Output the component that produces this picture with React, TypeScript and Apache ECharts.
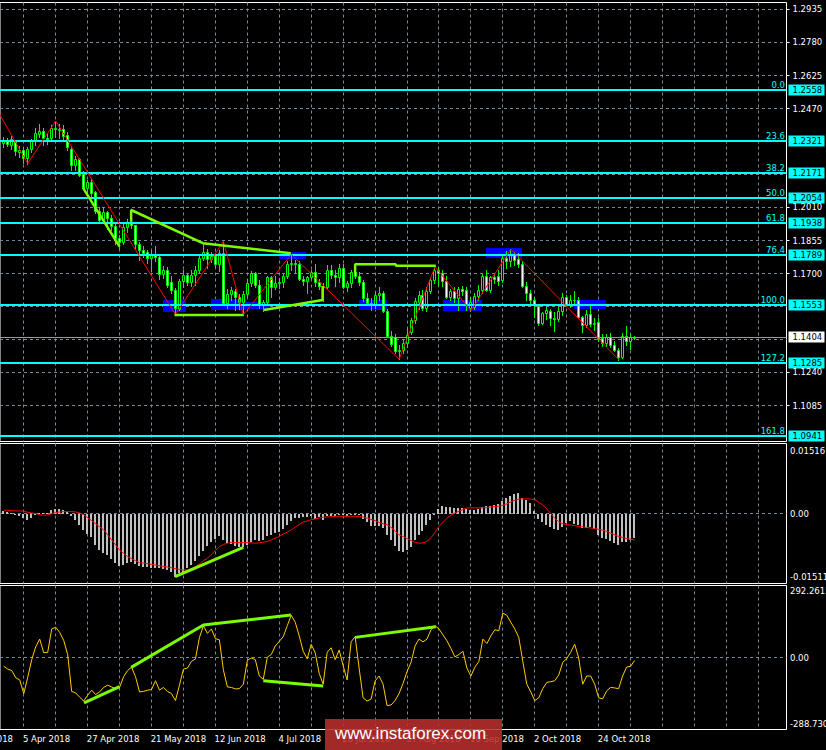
import React, { useEffect, useRef } from "react";
import * as echarts from "echarts";

// Daily EUR/USD bars, index 0 = 29 Mar 2018 ... index 158 = 6 Nov 2018. Rows: [open, close, low, high]
const candles: number[][] = [
  [1.2310,1.2318,1.2290,1.2340],[1.2318,1.2308,1.2295,1.2335],[1.2302,1.2330,1.2285,1.2345],[1.2318,1.2272,1.2255,1.2325],
  [1.2270,1.2280,1.2245,1.2295],[1.2280,1.2240,1.2218,1.2290],[1.2240,1.2282,1.2215,1.2292],[1.2283,1.2318,1.2270,1.2330],
  [1.2318,1.2357,1.2300,1.2380],[1.2355,1.2368,1.2340,1.2398],[1.2365,1.2332,1.2300,1.2380],[1.2332,1.2330,1.2305,1.2352],
  [1.2332,1.2380,1.2320,1.2395],[1.2382,1.2375,1.2340,1.2414],[1.2370,1.2378,1.2335,1.2398],[1.2377,1.2345,1.2330,1.2395],
  [1.2350,1.2290,1.2280,1.2360],[1.2285,1.2210,1.2185,1.2290],[1.2210,1.2235,1.2185,1.2250],[1.2235,1.2162,1.2155,1.2240],
  [1.2165,1.2100,1.2095,1.2180],[1.2100,1.2130,1.2055,1.2140],[1.2130,1.2078,1.2065,1.2145],[1.2080,1.1993,1.1985,1.2085],
  [1.1995,1.1950,1.1940,1.2010],[1.1952,1.1988,1.1940,1.2010],[1.1988,1.1960,1.1910,1.1995],[1.1962,1.1925,1.1905,1.1975],
  [1.1925,1.1865,1.1840,1.1935],[1.1865,1.1850,1.1822,1.1880],[1.1850,1.1920,1.1840,1.1935],[1.1918,1.1940,1.1895,1.1955],
  [1.1940,1.1928,1.1915,1.1995],[1.1928,1.1840,1.1820,1.1930],[1.1840,1.1810,1.1763,1.1850],[1.1810,1.1795,1.1780,1.1830],
  [1.1800,1.1772,1.1750,1.1810],[1.1772,1.1792,1.1715,1.1810],[1.1792,1.1780,1.1760,1.1830],[1.1780,1.1700,1.1675,1.1785],
  [1.1700,1.1720,1.1680,1.1735],[1.1720,1.1650,1.1640,1.1730],[1.1660,1.1625,1.1610,1.1690],[1.1625,1.1540,1.1510,1.1635],
  [1.1538,1.1665,1.1530,1.1675],[1.1665,1.1693,1.1640,1.1720],[1.1693,1.1660,1.1650,1.1705],[1.1660,1.1695,1.1645,1.1720],
  [1.1695,1.1720,1.1650,1.1735],[1.1720,1.1775,1.1710,1.1785],[1.1775,1.1800,1.1765,1.1840],[1.1800,1.1770,1.1725,1.1815],
  [1.1770,1.1785,1.1755,1.1800],[1.1785,1.1745,1.1730,1.1795],[1.1745,1.1795,1.1715,1.1810],[1.1795,1.1565,1.1560,1.1852],
  [1.1565,1.1608,1.1540,1.1630],[1.1605,1.1625,1.1580,1.1640],[1.1622,1.1590,1.1530,1.1630],[1.1590,1.1570,1.1535,1.1605],
  [1.1570,1.1605,1.1509,1.1618],[1.1605,1.1655,1.1590,1.1675],[1.1655,1.1703,1.1645,1.1715],[1.1703,1.1650,1.1640,1.1710],
  [1.1650,1.1555,1.1540,1.1670],[1.1555,1.1570,1.1525,1.1580],[1.1570,1.1685,1.1560,1.1690],[1.1685,1.1640,1.1590,1.1690],
  [1.1640,1.1655,1.1630,1.1690],[1.1655,1.1660,1.1635,1.1680],[1.1660,1.1690,1.1640,1.1700],[1.1690,1.1745,1.1680,1.1760],
  [1.1745,1.1750,1.1720,1.1791],[1.1750,1.1745,1.1705,1.1765],[1.1745,1.1675,1.1670,1.1760],[1.1675,1.1665,1.1650,1.1690],
  [1.1665,1.1685,1.1610,1.1690],[1.1685,1.1710,1.1675,1.1720],[1.1710,1.1660,1.1645,1.1745],[1.1660,1.1643,1.1630,1.1675],
  [1.1643,1.1640,1.1575,1.1655],[1.1640,1.1718,1.1630,1.1740],[1.1720,1.1695,1.1680,1.1740],[1.1695,1.1685,1.1645,1.1720],
  [1.1685,1.1725,1.1660,1.1745],[1.1725,1.1640,1.1635,1.1745],[1.1640,1.1655,1.1620,1.1665],[1.1655,1.1710,1.1640,1.1720],
  [1.1710,1.1690,1.1680,1.1745],[1.1690,1.1660,1.1650,1.1710],[1.1660,1.1585,1.1575,1.1670],[1.1585,1.1565,1.1560,1.1610],
  [1.1565,1.1553,1.1530,1.1585],[1.1553,1.1600,1.1540,1.1615],[1.1600,1.1610,1.1580,1.1640],[1.1610,1.1525,1.1520,1.1620],
  [1.1525,1.1410,1.1405,1.1535],[1.1412,1.1372,1.1365,1.1435],[1.1405,1.1340,1.1330,1.1420],[1.1340,1.1345,1.1301,1.1370],
  [1.1345,1.1375,1.1330,1.1395],[1.1375,1.1415,1.1360,1.1445],[1.1430,1.1485,1.1420,1.1495],[1.1485,1.1575,1.1470,1.1585],
  [1.1570,1.1600,1.1535,1.1620],[1.1600,1.1540,1.1530,1.1625],[1.1540,1.1622,1.1525,1.1640],[1.1622,1.1670,1.1610,1.1680],
  [1.1672,1.1720,1.1655,1.1733],[1.1720,1.1705,1.1650,1.1730],[1.1705,1.1665,1.1645,1.1720],[1.1665,1.1590,1.1585,1.1690],
  [1.1590,1.1622,1.1580,1.1630],[1.1622,1.1585,1.1570,1.1640],[1.1585,1.1630,1.1530,1.1640],[1.1630,1.1620,1.1600,1.1645],
  [1.1625,1.1560,1.1530,1.1640],[1.1540,1.1570,1.1528,1.1590],[1.1545,1.1595,1.1535,1.1610],[1.1595,1.1625,1.1580,1.1650],
  [1.1625,1.1690,1.1610,1.1700],[1.1690,1.1625,1.1620,1.1720],[1.1625,1.1685,1.1615,1.1690],[1.1685,1.1675,1.1655,1.1700],
  [1.1690,1.1665,1.1650,1.1720],[1.1670,1.1775,1.1660,1.1790],[1.1775,1.1760,1.1725,1.1805],[1.1760,1.1790,1.1735,1.1815],
  [1.1790,1.1765,1.1740,1.1800],[1.1770,1.1745,1.1730,1.1795],[1.1745,1.1645,1.1640,1.1760],[1.1645,1.1610,1.1580,1.1660],
  [1.1610,1.1578,1.1560,1.1625],[1.1578,1.1555,1.1500,1.1590],[1.1550,1.1470,1.1460,1.1560],[1.1470,1.1515,1.1465,1.1520],
  [1.1515,1.1530,1.1490,1.1545],[1.1525,1.1493,1.1460,1.1535],[1.1493,1.1490,1.1432,1.1520],[1.1490,1.1525,1.1480,1.1545],
  [1.1525,1.1592,1.1510,1.1610],[1.1592,1.1560,1.1550,1.1600],[1.1560,1.1580,1.1545,1.1600],[1.1580,1.1578,1.1560,1.1620],
  [1.1578,1.1500,1.1495,1.1590],[1.1500,1.1460,1.1430,1.1505],[1.1460,1.1512,1.1450,1.1530],[1.1512,1.1465,1.1455,1.1550],
  [1.1465,1.1470,1.1440,1.1495],[1.1475,1.1395,1.1385,1.1495],[1.1400,1.1375,1.1365,1.1420],[1.1375,1.1405,1.1365,1.1420],
  [1.1405,1.1370,1.1360,1.1425],[1.1370,1.1345,1.1340,1.1385],[1.1345,1.1310,1.1300,1.1355],[1.1310,1.1410,1.1305,1.1425],
  [1.1410,1.1385,1.1370,1.1455],[1.1385,1.1405,1.1350,1.1420],[1.1402,1.1404,1.1398,1.1410],
];

const macdHist: number[] = [
  0.00058,0.00044,0.00015,-0.00015,-0.00058,-0.00102,-0.00131,-0.00102,-0.00029,0.00015,
  0.00022,0.00015,0.00073,0.00109,0.00109,0.0008,0.00044,-0.00044,-0.00131,-0.0024,
  -0.00349,-0.00436,-0.00516,-0.00676,-0.00785,-0.00843,-0.00894,-0.00989,-0.01076,-0.01134,
  -0.01112,-0.01076,-0.0104,-0.01091,-0.01134,-0.01149,-0.01163,-0.0117,-0.0117,-0.01185,
  -0.01192,-0.01221,-0.01258,-0.01367,-0.0128,-0.01258,-0.01185,-0.01112,-0.01018,-0.00916,
  -0.008,-0.00698,-0.00603,-0.00553,-0.00494,-0.00567,-0.00625,-0.00654,-0.00698,-0.00727,
  -0.00727,-0.00683,-0.00603,-0.00567,-0.00582,-0.00567,-0.00494,-0.00458,-0.00422,-0.00407,
  -0.00334,-0.0024,-0.00153,-0.00095,-0.00095,-0.0008,-0.00073,-0.00058,-0.00116,-0.00073,
  -0.00131,-0.00058,-0.00044,-0.00044,-0.00015,-0.00029,-0.00044,-0.00029,-0.00022,-0.00029,
  -0.00116,-0.00189,-0.00262,-0.00262,-0.00262,-0.00313,-0.00458,-0.00567,-0.00698,-0.008,
  -0.00822,-0.00785,-0.00712,-0.00567,-0.00458,-0.00385,-0.0024,-0.00145,-0.00015,0.00102,
  0.00174,0.00145,0.00145,0.00124,0.00124,0.00124,0.00102,0.00073,0.00073,0.00109,
  0.00153,0.0016,0.0016,0.00182,0.00218,0.00269,0.00334,0.00378,0.00414,0.00443,
  0.00342,0.00305,0.00233,0.00051,-0.00116,-0.00189,-0.0024,-0.00291,-0.00334,-0.00364,
  -0.00291,-0.00204,-0.00167,-0.00218,-0.0024,-0.00313,-0.00313,-0.00291,-0.00334,-0.00458,
  -0.00531,-0.00553,-0.00582,-0.00625,-0.00676,-0.00603,-0.00603,-0.00567,-0.00531,
];

const macdSignal: number[] = [
  0.00073,0.00073,0.00065,0.00058,0.00058,0.00051,0.00029,0.00015,0,-0.00022,
  -0.00036,-0.00029,0,0.00022,0.00036,0.00044,0.00044,0.00044,0.00036,0.00015,
  -0.00022,-0.00087,-0.00153,-0.00218,-0.00284,-0.00349,-0.00458,-0.00567,-0.00676,-0.00785,
  -0.00858,-0.0093,-0.00974,-0.01018,-0.01061,-0.01069,-0.01083,-0.01098,-0.01112,-0.01127,
  -0.01141,-0.01156,-0.0117,-0.01192,-0.01207,-0.01221,-0.01214,-0.01192,-0.01149,-0.01091,
  -0.01018,-0.00967,-0.0088,-0.008,-0.00712,-0.00669,-0.0064,-0.00625,-0.00625,-0.00625,
  -0.00625,-0.00625,-0.00632,-0.0064,-0.00632,-0.00618,-0.00603,-0.00567,-0.00531,-0.00494,
  -0.00443,-0.004,-0.00349,-0.00291,-0.0024,-0.00182,-0.0016,-0.00131,-0.00116,-0.00095,
  -0.0008,-0.00073,-0.00065,-0.00058,-0.00058,-0.00058,-0.00058,-0.00058,-0.00058,-0.00058,
  -0.00073,-0.00095,-0.00124,-0.00153,-0.00189,-0.00218,-0.0024,-0.00298,-0.00371,-0.00458,
  -0.00494,-0.00538,-0.00582,-0.00618,-0.0064,-0.00632,-0.00603,-0.00523,-0.00407,-0.00276,
  -0.00189,-0.00102,-0.00036,0.00015,0.00051,0.00087,0.00124,0.00124,0.00124,0.00124,
  0.00124,0.00131,0.00145,0.00153,0.0016,0.00182,0.00211,0.00254,0.00291,0.00313,
  0.0032,0.0032,0.00313,0.00305,0.00247,0.00189,0.00102,0,-0.00102,-0.00174,
  -0.00218,-0.0024,-0.00247,-0.00262,-0.00276,-0.00284,-0.00298,-0.00313,-0.0032,-0.00342,
  -0.00356,-0.00385,-0.00422,-0.00458,-0.00494,-0.00516,-0.00538,-0.00553,-0.00567,
];

const cci: number[] = [
  -34,-45,-51,-80,-89,-144,-78,-7,45,76,
  21,23,117,124,103,71,14,-135,-141,-158,
  -174,-151,-130,-148,-137,-119,-110,-117,-124,-119,
  -76,-51,-37,-76,-137,-135,-130,-128,-92,-130,
  -119,-135,-144,-172,-110,-45,-41,-14,-4,82,
  130,99,117,78,73,-48,-117,-119,-125,-124,
  -106,-10,0,-7,-73,-86,3,14,48,67,
  86,130,172,144,89,27,-4,55,21,-62,
  -106,23,41,-7,32,-32,-89,65,86,-41,
  -161,-174,-166,-93,-73,-106,-192,-190,-172,-144,
  -103,-55,-18,48,76,65,76,114,130,117,
  93,69,38,4,14,27,-41,-73,-37,-14,
  76,58,89,114,110,181,172,144,117,82,
  -14,-106,-137,-172,-161,-124,-99,-96,-92,-69,
  -18,-3,23,55,0,-106,-73,-73,-106,-161,
  -165,-133,-119,-121,-124,-73,-37,-34,-10,
];

// time axis labels (bar index -> text)
const dateIdx = [-11, 5, 21, 37, 53, 69, 85, 101, 117, 133, 149];
const dateText = ["14 Mar 2018", "5 Apr 2018", "27 Apr 2018", "21 May 2018", "12 Jun 2018", "4 Jul 2018",
  "26 Jul 2018", "17 Aug 2018", "10 Sep 2018", "2 Oct 2018", "24 Oct 2018"];
const vGridIdx = [5, 13, 21, 29, 37, 45, 53, 61, 69, 77, 85, 93, 101, 109, 117, 125, 133, 141, 149, 157, 165, 173, 181, 189];

// price scale
const priceTickLabels = ["1.2935", "1.2780", "1.2625", "1.2470", "1.2010", "1.1855", "1.1700", "1.1240", "1.1085"];
const priceHiddenGrid = [1.2318, 1.2164, 1.1548, 1.1394];
const fibLevels = [1.2558, 1.2321, 1.2171, 1.2054, 1.1938, 1.1789, 1.1553, 1.1285, 1.0941];
const fibNames = ["0.0", "23.6", "38.2", "50.0", "61.8", "76.4", "100.0", "127.2", "161.8"];
const lastPrice = 1.1404;

const macdTicks = [0.01516, 0, -0.01511];
const macdTickText = ["0.01516", "0.00", "-0.01511"];
const cciTicks = [292.2615, 0, -288.73];
const cciTickText = ["292.2615", "0.00", "-288.730"];

// annotations
const zigzag = [[-2, 1.2476], [6, 1.2215], [13, 1.2414], [43, 1.1510], [55, 1.1852], [60, 1.1509], [72, 1.1791],
  [99, 1.1301], [108, 1.1733], [117, 1.1528], [127, 1.1815], [154, 1.1300]];
const blueZones = [ // [fromIdx, toIdx, low, high]
  [40, 45.85, 1.1523, 1.1578], [51.9, 60.7, 1.1531, 1.1582], [60.7, 66.5, 1.1535, 1.1570], [69, 75.85, 1.1769, 1.1802],
  [88.9, 95.9, 1.1531, 1.1578], [110, 119.85, 1.1528, 1.1578], [120.9, 129.85, 1.1775, 1.1822], [142.9, 150.85, 1.1535, 1.1578],
];
const limePrice = [
  [[19.85, 1.2101], [29, 1.1827]],
  [[31.9, 1.1943], [31.9, 1.1998], [49.85, 1.1843], [71.9, 1.1796]],
  [[42.75, 1.1508], [60, 1.1508]],
  [[65.2, 1.1531], [79.85, 1.1578], [79.85, 1.1643]],
  [[88, 1.1703], [88, 1.1745], [98.2, 1.1745], [98.2, 1.1738], [108.2, 1.1738]],
];
const limeMacd = [[[42.9, -0.01364], [60, -0.00729]]];
const limeCci = [
  [[20.1, -181], [29, -116]],
  [[31.9, -38], [50, 133], [71.9, 173]],
  [[65, -92], [80, -113]],
  [[88, 83], [108.2, 126]],
];

const X_MIN = -0.95, X_MAX = 196.05;
const PRICE_MIN = 1.09173, PRICE_MAX = 1.29667;
const MACD_MIN = -0.01511, MACD_MAX = 0.01516;
const CCI_MIN = -288.73, CCI_MAX = 292.2615;

const FONT = '8.5px "DejaVu Sans", Verdana, sans-serif';
const GRID_COLOR = "#778899";
const CANDLE = "#00ff00";
const LIME = "#7cfc00";
const AQUA = "#00ffff";

const crisp = (v: number) => Math.round(v - 0.5) + 0.5;
const txt = (x: number, y: number, text: string, fill: string, align = "left", vAlign = "middle", font = FONT) => ({
  type: "text", x, y, silent: true,
  style: { text, fill, font, textAlign: align, textVerticalAlign: vAlign, align, verticalAlign: vAlign },
});

function vGrid(k: number) {
  return {
    type: "custom", xAxisIndex: k, yAxisIndex: k, silent: true, z: 1, encode: { x: 0, y: 1 },
    data: vGridIdx.map((i) => [i, 0]),
    renderItem: (params: any, api: any) => {
      const cs = params.coordSys;
      const x = Math.floor(api.coord([api.value(0), 0])[0]) + 0.5;
      return { type: "line", shape: { x1: x, y1: cs.y, x2: x, y2: cs.y + cs.height },
        style: { stroke: GRID_COLOR, lineWidth: 1, lineDash: [3, 3] } };
    },
  };
}
function hGrid(k: number, values: number[]) {
  return {
    type: "custom", xAxisIndex: k, yAxisIndex: k, silent: true, z: 1, encode: { x: 0, y: 1 },
    data: values.map((v) => [X_MIN, v]),
    renderItem: (params: any, api: any) => {
      const cs = params.coordSys;
      const y = crisp(api.coord([X_MIN, api.value(1)])[1]);
      return { type: "line", shape: { x1: cs.x, y1: y, x2: cs.x + cs.width, y2: y },
        style: { stroke: GRID_COLOR, lineWidth: 1, lineDash: [3, 3] } };
    },
  };
}
function axisLabels(k: number, values: number[], texts: string[], dx: number, clamp: number, tick: boolean) {
  return {
    type: "custom", xAxisIndex: k, yAxisIndex: k, silent: true, z: 8, encode: { x: 0, y: 1 },
    data: values.map((v) => [X_MAX, v]),
    renderItem: (params: any, api: any) => {
      const cs = params.coordSys;
      const right = cs.x + cs.width;
      let y = api.coord([X_MAX, api.value(1)])[1];
      y = Math.min(Math.max(y, cs.y + clamp), cs.y + cs.height - clamp);
      const children: any[] = [txt(right + dx, y, texts[params.dataIndex], "#ffffff")];
      if (tick) children.push({ type: "line", shape: { x1: right, y1: crisp(y), x2: right + 3, y2: crisp(y) }, style: { stroke: "#fff", lineWidth: 1 } });
      return { type: "group", children };
    },
  };
}
function polyline(k: number, data: number[][], color: string, width: number, z: number) {
  return { type: "line", xAxisIndex: k, yAxisIndex: k, data, symbol: "none", showSymbol: false, silent: true, z,
    lineStyle: { color, width }, animation: false };
}

const series: any[] = [
  vGrid(0), vGrid(1), vGrid(2),
  hGrid(0, [...priceTickLabels.map(Number), ...priceHiddenGrid]),
  hGrid(1, [0]), hGrid(2, [0]),
  {
    type: "custom", xAxisIndex: 0, yAxisIndex: 0, silent: true, z: 2, encode: { x: [0, 1], y: [2, 3] },
    data: blueZones,
    renderItem: (params: any, api: any) => {
      const a = api.coord([api.value(0), api.value(3)]);
      const b = api.coord([api.value(1), api.value(2)]);
      return { type: "rect", shape: { x: Math.round(a[0]), y: Math.round(a[1]), width: Math.round(b[0] - a[0]), height: Math.round(b[1] - a[1]) },
        style: { fill: "#0000ff" } };
    },
  },
  {
    type: "custom", xAxisIndex: 0, yAxisIndex: 0, silent: true, z: 3, encode: { x: 0, y: [1, 2, 3, 4] },
    data: candles.map((c, i) => [i, c[0], c[1], c[2], c[3]]),
    renderItem: (params: any, api: any) => {
      const i = api.value(0), o = api.value(1), c = api.value(2), l = api.value(3), h = api.value(4);
      const po = api.coord([i, o]);
      const x = Math.floor(po[0]) + 0.5;
      const yo = po[1], yc = api.coord([i, c])[1];
      const yl = api.coord([i, l])[1], yh = api.coord([i, h])[1];
      const top = Math.round(Math.min(yo, yc)) + 0.5;
      const bot = Math.round(Math.max(yo, yc)) + 0.5;
      return { type: "group", children: [
        { type: "line", shape: { x1: x, y1: Math.round(yh), x2: x, y2: Math.round(yl) + 1 }, style: { stroke: CANDLE, lineWidth: 1 } },
        { type: "rect", shape: { x: x - 1, y: top, width: 2, height: Math.max(bot - top, 0) },
          style: { fill: c >= o ? "#000000" : "#ffffff", stroke: CANDLE, lineWidth: 1 } },
      ] };
    },
  },
  {
    type: "custom", xAxisIndex: 0, yAxisIndex: 0, silent: true, z: 3, encode: { x: 0, y: 1 },
    data: [[X_MAX, lastPrice]],
    renderItem: (params: any, api: any) => {
      const cs = params.coordSys;
      const right = cs.x + cs.width;
      const y = api.coord([X_MAX, api.value(1)])[1];
      return { type: "group", children: [
        { type: "line", shape: { x1: cs.x, y1: crisp(y), x2: right, y2: crisp(y) }, style: { stroke: "#9a9a9a", lineWidth: 1 } },
        { type: "rect", z2: 10, shape: { x: right + 2, y: Math.round(y) - 5.5, width: 36, height: 11 }, style: { fill: "#ffffff" } },
        { ...txt(right + 6, Math.round(y), lastPrice.toFixed(4), "#000000"), z2: 11 },
      ] };
    },
  },
  {
    type: "custom", xAxisIndex: 0, yAxisIndex: 0, silent: true, z: 4, encode: { x: 0, y: 1 },
    data: fibLevels.map((v) => [X_MAX, v]),
    renderItem: (params: any, api: any) => {
      const cs = params.coordSys;
      const right = cs.x + cs.width;
      const v = api.value(1);
      const y = Math.round(api.coord([X_MAX, v])[1]);
      return { type: "group", children: [
        { type: "line", shape: { x1: cs.x, y1: y, x2: right, y2: y }, style: { stroke: AQUA, lineWidth: 2 } },
        txt(right - 1.5, y - 1, fibNames[params.dataIndex], AQUA, "right", "bottom"),
        { type: "rect", shape: { x: right + 2, y: y - 5.5, width: 36, height: 11 }, style: { fill: AQUA } },
        txt(right + 6, y, v.toFixed(4), "#000000"),
      ] };
    },
  },
  polyline(0, zigzag, "#ff0000", 1, 5),
  ...limePrice.map((d) => polyline(0, d, LIME, 2.5, 6)),
  axisLabels(0, priceTickLabels.map(Number), priceTickLabels, 6, 0, true),

  // MACD pane
  {
    type: "custom", xAxisIndex: 1, yAxisIndex: 1, silent: true, z: 3, encode: { x: 0, y: 1 },
    data: macdHist.map((v, i) => [i, v]),
    renderItem: (params: any, api: any) => {
      const i = api.value(0), v = api.value(1);
      const p0 = api.coord([i, 0]), p1 = api.coord([i, v]);
      const x = Math.floor(p0[0]) - 1;
      const y0 = Math.round(p0[1]), y1 = Math.round(p1[1]);
      return { type: "rect", shape: { x, y: Math.min(y0, y1), width: 2, height: Math.max(Math.abs(y1 - y0), 1) },
        style: { fill: "#c0c0c0" } };
    },
  },
  polyline(1, macdSignal.map((v, i) => [i, v]), "#ff0000", 1, 5),
  ...limeMacd.map((d) => polyline(1, d, LIME, 3, 6)),
  axisLabels(1, macdTicks, macdTickText, 3.5, 7, false),

  // CCI pane
  polyline(2, cci.map((v, i) => [i, v]), "#ffcc00", 1, 5),
  ...limeCci.map((d) => polyline(2, d, LIME, 3, 6)),
  axisLabels(2, cciTicks, cciTickText, 3.5, 5.5, false),
  {
    type: "custom", xAxisIndex: 2, yAxisIndex: 2, silent: true, z: 8, encode: { x: 0, y: 1 },
    data: dateIdx.map((i) => [i, CCI_MIN]),
    renderItem: (params: any, api: any) => {
      const cs = params.coordSys;
      const p = api.coord([api.value(0), CCI_MIN]);
      return txt(p[0] - 0.8, cs.y + cs.height + 9, dateText[params.dataIndex], "#ffffff");
    },
  },
];

const gridBase = { show: true, borderColor: "#ffffff", borderWidth: 1, backgroundColor: "transparent", left: -1.5, width: 788 };

const option: any = {
  animation: false,
  backgroundColor: "#000000",
  grid: [
    { ...gridBase, top: 2.5, height: 439 },
    { ...gridBase, top: 443.5, height: 140 },
    { ...gridBase, top: 585.5, height: 144 },
  ],
  xAxis: [0, 1, 2].map((k) => ({ type: "value", gridIndex: k, min: X_MIN, max: X_MAX, show: false })),
  yAxis: [
    { type: "value", gridIndex: 0, min: PRICE_MIN, max: PRICE_MAX, show: false },
    { type: "value", gridIndex: 1, min: MACD_MIN, max: MACD_MAX, show: false },
    { type: "value", gridIndex: 2, min: CCI_MIN, max: CCI_MAX, show: false },
  ],
  series,
  graphic: [
    { type: "rect", z: 100, silent: true, shape: { x: 325, y: 719, width: 177, height: 31 }, style: { fill: "rgba(185,45,45,0.88)" } },
    { type: "text", z: 101, silent: true, x: 335, y: 733.5,
      style: { text: "www.instaforex.com", fill: "#ffffff", font: '17px "Liberation Sans", Arial, sans-serif',
        textAlign: "left", textVerticalAlign: "middle", align: "left", verticalAlign: "middle" } },
  ],
};

export default function App() {
  const ref = useRef<HTMLDivElement>(null);
  useEffect(() => {
    if (!ref.current) return;
    const chart = echarts.init(ref.current, null, { renderer: "svg" });
    chart.setOption(option);
    return () => chart.dispose();
  }, []);
  return <div ref={ref} style={{ position: "absolute", left: 0, top: 0, width: 826, height: 750, background: "#000" }} />;
}
